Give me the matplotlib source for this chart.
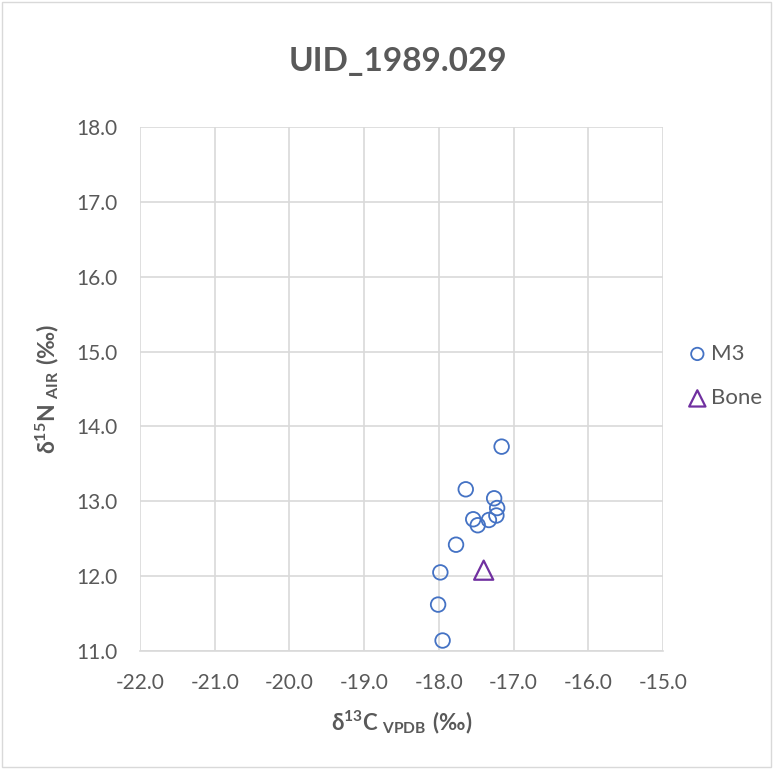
import matplotlib.pyplot as plt
from matplotlib.patches import Rectangle

plt.rcParams['font.family'] = ['Lato', 'DejaVu Sans']
plt.rcParams['mathtext.fontset'] = 'custom'
plt.rcParams['mathtext.rm'] = 'Lato'
plt.rcParams['mathtext.bf'] = 'Lato:bold'

title = "UID_1989.029"
m3_x = [-17.16, -17.64, -17.26, -17.22, -17.23, -17.33, -17.54, -17.48, -17.77, -17.98, -18.01, -17.95]
m3_y = [13.73, 13.16, 13.04, 12.91, 12.81, 12.75, 12.76, 12.68, 12.42, 12.05, 11.62, 11.14]
bone_x = [-17.40]
bone_y = [12.08]
x_ticks = [-22, -21, -20, -19, -18, -17, -16, -15]
y_ticks = [11, 12, 13, 14, 15, 16, 17, 18]

grey = "#595959"
W, H = 773, 769

fig = plt.figure(figsize=(W/100, H/100), dpi=100)
ax = fig.add_axes([140/W, 1 - 651/H, (663-140)/W, (651-127)/H])

ax.scatter(m3_x, m3_y, s=110, facecolors='none', edgecolors='#4472C4', linewidths=1.3, label="M3", zorder=3)
ax.scatter(bone_x, bone_y, s=190, marker='^', facecolors='none', edgecolors='#7030A0', linewidths=1.6, label="Bone", zorder=3)

ax.set_xlim(-22, -15)
ax.set_ylim(11, 18)
ax.set_xticks(x_ticks)
ax.set_yticks(y_ticks)
ax.set_xticklabels(["%.1f" % v for v in x_ticks])
ax.set_yticklabels(["%.1f" % v for v in y_ticks])
ax.tick_params(length=0, labelsize=15, colors=grey)
ax.tick_params(axis='x', pad=16)
ax.tick_params(axis='y', pad=16)
ax.grid(True, color="#d9d9d9", linewidth=1.2)
ax.set_axisbelow(True)
for s in ax.spines.values():
    s.set_visible(False)
ax.spines['bottom'].set_visible(True)
ax.spines['bottom'].set_color("#d9d9d9")
ax.spines['bottom'].set_linewidth(1.2)

xl = ax.set_xlabel(r"$\mathbf{δ^{13}C_{\ VPDB}\ (‰)}$", fontsize=16, color=grey)
yl = ax.set_ylabel(r"$\mathbf{δ^{15}N_{\ AIR}\ (‰)}$", fontsize=16.5, color=grey)
ax.xaxis.set_label_coords(0.5, -(722 - 651)/524)
xl.set_va('center')
ax.yaxis.set_label_coords(-(140 - 47)/523, 0.5)
yl.set_va('center')

fig.text(398/W, 1 - 62/H, title, ha='center', va='center', fontsize=24, fontweight='bold', color=grey)

leg = ax.legend(loc='center left', bbox_to_anchor=(684/W, 1 - 376/H), bbox_transform=fig.transFigure,
                frameon=False, fontsize=16, handletextpad=0.0, handlelength=1.2, labelspacing=1.1,
                markerscale=0.85, borderaxespad=0, borderpad=0)
for t in leg.get_texts():
    t.set_color(grey)

fig.add_artist(Rectangle((0.002, 0.002), 0.996, 0.996, transform=fig.transFigure, fill=False, edgecolor="#d9d9d9", linewidth=1))

fig.savefig("out.png", dpi=100)
